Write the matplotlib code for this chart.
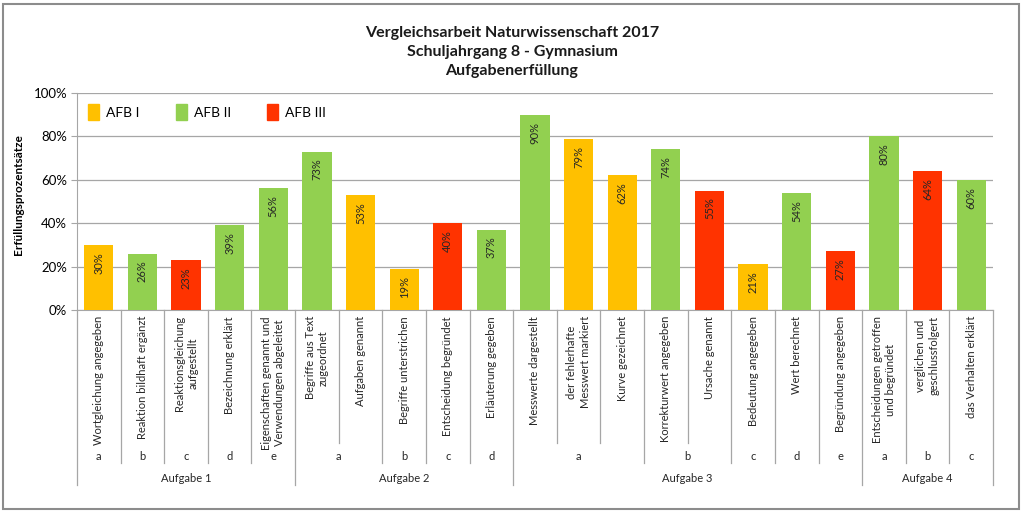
import numpy as np
import matplotlib
matplotlib.use("Agg")
from matplotlib import pyplot as plt
from matplotlib.patches import Rectangle, Patch

plt.rcParams['font.family'] = ['Lato', 'DejaVu Sans']

# data
items = ["Wortgleichung angegeben", "Reaktion bildhaft ergänzt",
         "Reaktionsgleichung\naufgestellt", "Bezeichnung erklärt",
         "Eigenschaften genannt und\nVerwendungen abgeleitet",
         "Begriffe aus Text\nzugeordnet", "Aufgaben genannt",
         "Begriffe unterstrichen", "Entscheidung begründet",
         "Erläuterung gegeben", "Messwerte dargestellt",
         "der fehlerhafte\nMesswert markiert", "Kurve gezeichnet",
         "Korrekturwert angegeben", "Ursache genannt",
         "Bedeutung angegeben", "Wert berechnet", "Begründung angegeben",
         "Entscheidungen getroffen\nund begründet",
         "verglichen und\ngeschlussfolgert", "das Verhalten erklärt"]
values = [30, 26, 23, 39, 56, 73, 53, 19, 40, 37, 90, 79, 62, 74, 55, 21, 54, 27, 80, 64, 60]
afb = [1, 2, 3, 2, 2, 2, 1, 1, 3, 2, 2, 1, 1, 2, 3, 1, 2, 3, 2, 3, 2]
letters = ["a", "b", "c", "d", "e", "a", "a", "b", "c", "d",
           "a", "a", "a", "b", "b", "c", "d", "e", "a", "b", "c"]
groups = [1, 1, 1, 1, 1, 2, 2, 2, 2, 2, 3, 3, 3, 3, 3, 3, 3, 3, 4, 4, 4]
afb_names = ["AFB I", "AFB II", "AFB III"]
afb_colors = {1: "#FFC000", 2: "#92D050", 3: "#FF3300"}

title = "Vergleichsarbeit Naturwissenschaft 2017\nSchuljahrgang 8 - Gymnasium\nAufgabenerfüllung"

W, H = 1024, 512
fig = plt.figure(figsize=(W / 100, H / 100), dpi=100)
ax = fig.add_axes([77 / W, 1 - 310 / H, (993 - 77) / W, (310 - 93) / H])

x = np.arange(len(values))
cols = [afb_colors[a] for a in afb]
bars = ax.bar(x, values, width=0.67, color=cols, zorder=3)

for xi, v in zip(x, values):
    ax.annotate(f"{v}%", (xi, v), xytext=(0, -5), textcoords="offset points",
                rotation=90, ha="center", va="top", fontsize=8, color="#262626", zorder=4)

ax.set_xlim(-0.5, len(values) - 0.5)
ax.set_ylim(0, 100)
ax.set_yticks(np.arange(0, 101, 20))
ax.set_yticklabels([f"{t}%" for t in range(0, 101, 20)], fontsize=9.5)
ax.yaxis.grid(True, color="#a6a6a6", lw=0.9, zorder=0)
ax.tick_params(axis="y", length=4, color="#a6a6a6", pad=3)
ax.set_xticks([])
for s in ["top", "right"]:
    ax.spines[s].set_visible(False)
for s in ["left", "bottom"]:
    ax.spines[s].set_color("#a6a6a6")
ax.set_ylabel("Erfüllungsprozentsätze", fontsize=8.5, fontweight="bold", labelpad=8)
ax.yaxis.set_label_coords(-0.058, 0.53)

# multi-level category axis
tr = ax.get_xaxis_transform()
def fy(py):
    return (310 - py) / (310 - 93)

lc = "#a6a6a6"
n = len(values)
edges = [-0.5] + [i + 0.5 for i in range(n - 1)] + [n - 0.5]
for k, e in enumerate(edges):
    if k == 0 or k == n:
        bot = 485
    else:
        i = k - 1
        if groups[i] != groups[i + 1]:
            bot = 485
        elif letters[i] != letters[i + 1]:
            bot = 463
        else:
            bot = 443
    ax.plot([e, e], [0, fy(bot)], color=lc, lw=0.9, transform=tr, clip_on=False)

for xi, lab in zip(x, items):
    ax.text(xi, fy(316), lab, rotation=90, ha="center", va="top", multialignment="center",
            fontsize=8, linespacing=1.25, color="#262626", transform=tr)

# letter spans
start = 0
for i in range(1, n + 1):
    if i == n or letters[i] != letters[start] or groups[i] != groups[start]:
        ax.text((start + i - 1) / 2, fy(457), letters[start], ha="center", va="center",
                fontsize=8, color="#262626", transform=tr)
        start = i
start = 0
for i in range(1, n + 1):
    if i == n or groups[i] != groups[start]:
        ax.text((start + i - 1) / 2, fy(478), f"Aufgabe {groups[start]}", ha="center", va="center",
                fontsize=8, color="#262626", transform=tr)
        start = i

handles = [Patch(color=afb_colors[k + 1], label=afb_names[k]) for k in range(3)]
ax.legend(handles=handles, loc="upper left", ncol=3, frameon=False, fontsize=10,
          handlelength=0.8, handleheight=1.4, handletextpad=0.5, columnspacing=2.6,
          bbox_to_anchor=(0.0, 1.0), borderaxespad=0.4)

fig.text(0.5, 1 - 52 / H, title, ha="center", va="center", fontsize=11.5, fontweight="bold",
         linespacing=1.5, color="#1a1a1a")

fig.patches.append(Rectangle((3 / W, 3 / H), 1016 / W, 505 / H, transform=fig.transFigure,
                             fill=False, edgecolor="#8c8c8c", lw=1.5))

fig.savefig("out.png", dpi=100)
